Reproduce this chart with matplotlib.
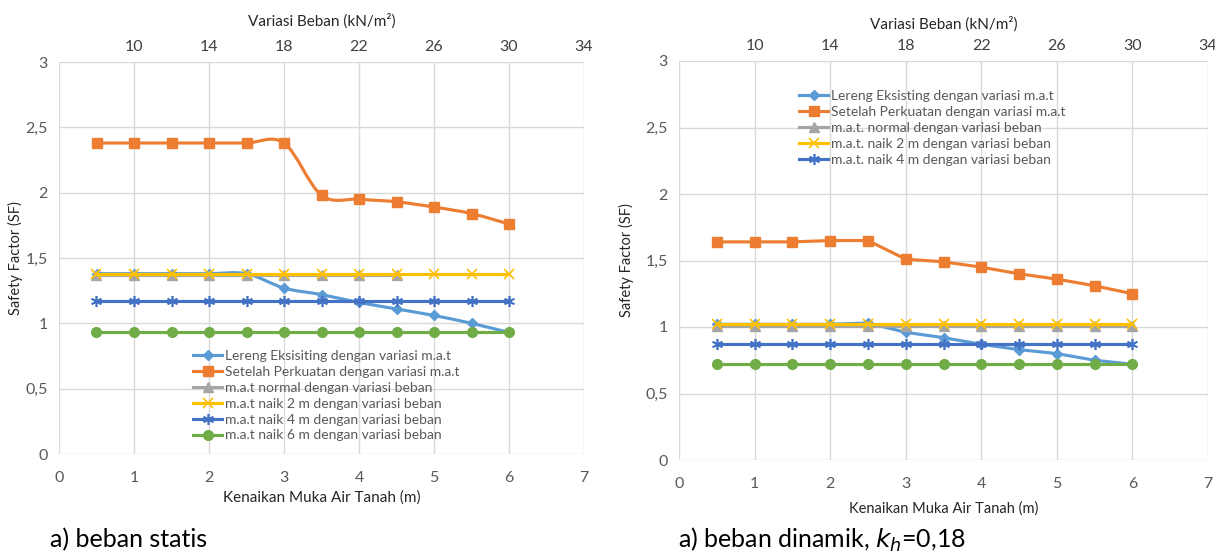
import matplotlib
matplotlib.use('Agg')
import matplotlib.pyplot as plt
from matplotlib.path import Path
from matplotlib.patches import PathPatch
from matplotlib.lines import Line2D

plt.rcParams['font.family'] = ['Lato', 'DejaVu Sans']

# kenaikan muka air tanah (m) and variasi beban (kN/m2)
mat = [0.5, 1, 1.5, 2, 2.5, 3, 3.5, 4, 4.5, 5, 5.5, 6]
beban = [8, 10, 12, 14, 16, 18, 20, 22, 24, 26, 28, 30]

# a) beban statis
s_lereng = [1.38, 1.38, 1.38, 1.38, 1.38, 1.27, 1.22, 1.16, 1.11, 1.06, 1.00, 0.93]
s_perkuatan = [2.38, 2.38, 2.38, 2.38, 2.38, 2.38, 1.98, 1.95, 1.93, 1.89, 1.84, 1.76]
s_normal = [1.37, 1.37, 1.37, 1.37, 1.37, 1.37, 1.37, 1.37, 1.37]
s_naik2 = [1.38] * 12
s_naik4 = [1.17] * 12
s_naik6 = [0.93] * 12

# b) beban dinamik
d_lereng = [1.02, 1.02, 1.02, 1.02, 1.03, 0.96, 0.92, 0.87, 0.83, 0.80, 0.75, 0.72]
d_perkuatan = [1.64, 1.64, 1.64, 1.65, 1.65, 1.51, 1.49, 1.45, 1.40, 1.36, 1.31, 1.25]
d_normal = [1.01] * 12
d_naik2 = [1.02] * 12
d_naik4 = [0.87] * 12
d_naik6 = [0.72] * 12

BLUE_L = '#5B9BD5'
ORANGE = '#ED7D31'
GRAY = '#A5A5A5'
YELLOW = '#FFC000'
BLUE = '#4472C4'
GREEN = '#70AD47'
STAR = (6, 2, 0)
LW = 2.25

# marker style per series: (marker, size, edge width)
M_LERENG = ('D', 5, 1)
M_PERK = ('s', 7, 1)
M_NORMAL = ('^', 7, 1)
M_NAIK2 = ('x', 7, 1.2)
M_NAIK4 = (STAR, 8, 1.2)
M_NAIK6 = ('o', 7, 1)


def smooth(ax, x, y, color):
    # excel-like smoothed line (bezier through the data points)
    n = len(x)
    verts = [(x[0], y[0])]
    codes = [Path.MOVETO]
    for i in range(n - 1):
        a = i - 1 if i > 0 else i
        b = i + 2 if i + 2 < n else i + 1
        c1 = (x[i] + (x[i + 1] - x[a]) / 6, y[i] + (y[i + 1] - y[a]) / 6)
        c2 = (x[i + 1] - (x[b] - x[i]) / 6, y[i + 1] - (y[b] - y[i]) / 6)
        verts += [c1, c2, (x[i + 1], y[i + 1])]
        codes += [Path.CURVE4] * 3
    ax.add_patch(PathPatch(Path(verts, codes), fill=False, ec=color, lw=LW,
                           capstyle='round', joinstyle='round'))


def series(ax, x, y, color, m, smoothed=False):
    marker, ms, mew = m
    if smoothed:
        smooth(ax, x, y, color)
        ax.plot(x, y, ls='none', marker=marker, ms=ms, color=color, mew=mew)
    else:
        ax.plot(x, y, lw=LW, marker=marker, ms=ms, color=color, mew=mew)


def handle(color, m):
    marker, ms, mew = m
    return Line2D([], [], color=color, lw=LW, marker=marker, ms=ms, mew=mew)


def setup(ax, ax2, ylab_x):
    ax.set_xlim(0, 7)
    ax.set_ylim(0, 3)
    ax.set_xticks(range(0, 8))
    ax.set_yticks([0, 0.5, 1, 1.5, 2, 2.5, 3])
    ax.set_yticklabels(['0', '0,5', '1', '1,5', '2', '2,5', '3'])
    ax.grid(True, color='#D9D9D9', lw=1)
    ax.set_axisbelow(True)
    for a in (ax, ax2):
        for s in a.spines.values():
            s.set_visible(False)
        a.tick_params(length=0, labelsize=11.5, labelcolor='#595959')
    ax.tick_params(axis='x', pad=12)
    ax.tick_params(axis='y', pad=8)
    ax2.set_xlim(6, 34)
    ax2.set_xticks([10, 14, 18, 22, 26, 30, 34])
    ax2.tick_params(axis='x', pad=6, labelcolor='#404040')
    ax.set_ylabel('Safety Factor (SF)', fontsize=10.5, color='#262626')
    ax.yaxis.set_label_coords(ylab_x, 0.5)
    ax2.set_xlabel('Variasi Beban (kN/m²)', fontsize=11, color='#262626', labelpad=10)


fig = plt.figure(figsize=(12.15, 5.54), dpi=100)
W, H = 1215, 554

# ---- left: beban statis
ax = fig.add_axes([59 / W, 1 - 454 / H, 525 / W, 392 / H])
ax2 = ax.twiny()
setup(ax, ax2, -0.068)
ax.set_xlabel('Kenaikan Muka Air Tanah (m)', fontsize=11, color='#262626', labelpad=4)
series(ax, mat, s_lereng, BLUE_L, M_LERENG, True)
series(ax, mat, s_perkuatan, ORANGE, M_PERK, True)
series(ax2, beban[:len(s_normal)], s_normal, GRAY, M_NORMAL)
series(ax2, beban, s_naik2, YELLOW, M_NAIK2)
series(ax2, beban, s_naik4, BLUE, M_NAIK4)
series(ax2, beban, s_naik6, GREEN, M_NAIK6)
labels = ['Lereng Eksisiting dengan variasi m.a.t',
          'Setelah Perkuatan dengan variasi m.a.t',
          'm.a.t normal dengan variasi beban',
          'm.a.t naik 2 m dengan variasi beban',
          'm.a.t naik 4 m dengan variasi beban',
          'm.a.t naik 6 m dengan variasi beban']
hs = [handle(BLUE_L, M_LERENG), handle(ORANGE, M_PERK), handle(GRAY, M_NORMAL),
      handle(YELLOW, M_NAIK2), handle(BLUE, M_NAIK4), handle(GREEN, M_NAIK6)]
ax2.legend(hs, labels, loc='upper left', bbox_to_anchor=(186 / W, 1 - 343 / H),
           bbox_transform=fig.transFigure, frameon=False, fontsize=10,
           handlelength=2.1, handletextpad=0.2, labelspacing=0.28,
           borderpad=0, labelcolor='#595959')

# ---- right: beban dinamik
bx = fig.add_axes([679 / W, 1 - 460 / H, 529 / W, 399 / H])
bx2 = bx.twiny()
setup(bx, bx2, -0.086)
bx2.xaxis.labelpad = 7
bx.set_xlabel('Kenaikan Muka Air Tanah (m)', fontsize=10.5, color='#262626', labelpad=8)
series(bx, mat, d_lereng, BLUE_L, M_LERENG)
series(bx, mat, d_perkuatan, ORANGE, M_PERK)
series(bx2, beban, d_normal, GRAY, M_NORMAL)
series(bx2, beban, d_naik2, YELLOW, M_NAIK2)
series(bx2, beban, d_naik4, BLUE, M_NAIK4)
series(bx2, beban, d_naik6, GREEN, M_NAIK6)
labels_d = ['Lereng Eksisting dengan variasi m.a.t',
            'Setelah Perkuatan dengan variasi m.a.t',
            'm.a.t. normal dengan variasi beban',
            'm.a.t. naik 2 m dengan variasi beban',
            'm.a.t. naik 4 m dengan variasi beban']
bx2.legend(hs[:5], labels_d, loc='upper left', bbox_to_anchor=(792 / W, 1 - 83 / H),
           bbox_transform=fig.transFigure, frameon=False, fontsize=10,
           handlelength=2.1, handletextpad=0.2, labelspacing=0.28,
           borderpad=0, labelcolor='#595959')

# captions
fig.text(50 / W, 1 - 540 / H, 'a) beban statis', fontsize=18, va='center')
fig.text(678 / W, 1 - 540 / H, 'a) beban dinamik, $\\mathit{k_h}$=0,18', fontsize=18, va='center')

fig.savefig('out.png', dpi=100)
